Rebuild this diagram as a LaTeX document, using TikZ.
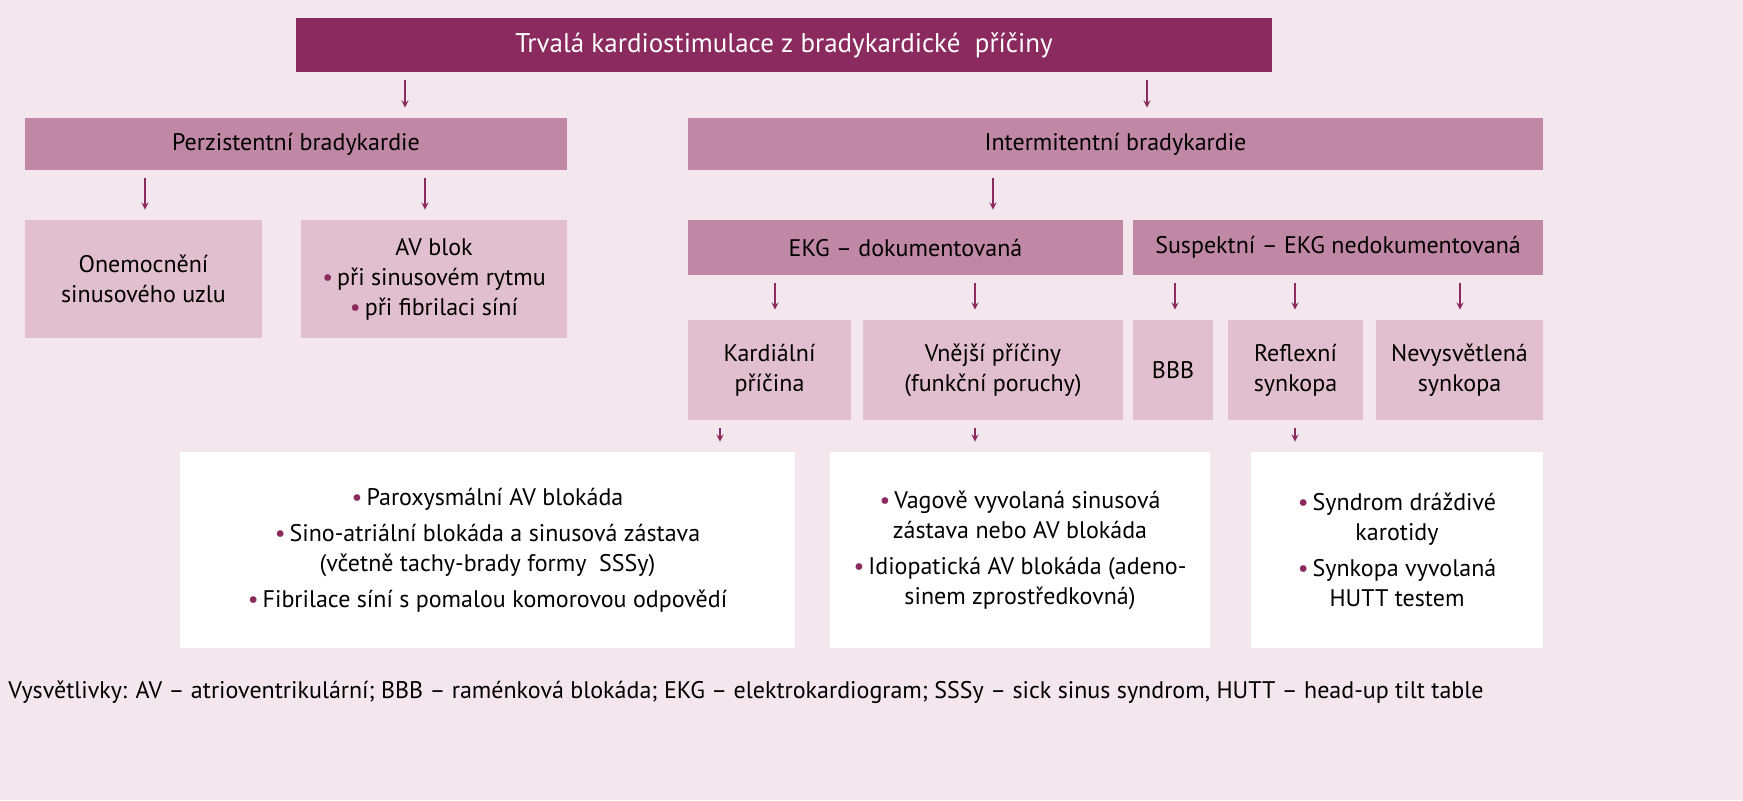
\documentclass[tikz,border=0pt]{standalone}
\usepackage{fontspec}
\setmainfont{PT Sans}
\definecolor{dark}{HTML}{8B2A5E}
\definecolor{mid}{HTML}{C088A4}
\definecolor{light}{HTML}{E2BFCE}
\definecolor{back}{HTML}{F4E6ED}
\tikzset{
% box styles, sizes in pixels of the reference
box/.style={rectangle,inner sep=0,align=center,font=\fontsize{12}{15}\selectfont},
top box/.style={box,fill=dark,text=white,font=\fontsize{13.5}{16}\selectfont},
mid box/.style={box,fill=mid},
light box/.style={box,fill=light},
white box/.style={box,fill=white},
arr/.style={->,>=stealth,draw=dark,semithick,shorten <=4pt,shorten >=5pt}
}
\newcommand\bul{{\color{dark}\textbullet}\,}
\begin{document}
\begin{tikzpicture}[x=0.5pt,y=-0.5pt]
\useasboundingbox (0,0) rectangle (1743,800);
\fill[back] (0,0) rectangle (1743,800);
\node[top box, minimum width=488pt, minimum height=27pt] (top) at (784,45) {Trvalá kardiostimulace z bradykardické\ \ příčiny};
\node[mid box, minimum width=271pt, minimum height=26pt] (perz) at (296,144) {Perzistentní bradykardie};
\node[mid box, minimum width=427.5pt, minimum height=26pt] (inter) at (1115.5,144) {Intermitentní bradykardie};
\node[light box, minimum width=118.5pt, minimum height=59pt] (onem) at (143.5,279) {Onemocnění\\sinusového uzlu};
\node[light box, minimum width=133pt, minimum height=59pt] (avb) at (434,279) {AV blok\\\bul při sinusovém rytmu\\\bul při fibrilaci síní};
\node[mid box, minimum width=217.5pt, minimum height=27.5pt] (ekg) at (905.5,247.5) {EKG – dokumentovaná};
\node[mid box, minimum width=205pt, minimum height=27.5pt] (susp) at (1338,247.5) {Suspektní – EKG nedokumentovaná};
\node[light box, minimum width=81.5pt, minimum height=50pt] (kard) at (769.5,370) {Kardiální\\příčina};
\node[light box, minimum width=130pt, minimum height=50pt] (vnej) at (993,370) {Vnější příčiny\\(funkční poruchy)};
\node[light box, minimum width=40pt, minimum height=50pt] (bbb) at (1173,370) {BBB};
\node[light box, minimum width=67.5pt, minimum height=50pt] (refl) at (1295.5,370) {Reflexní\\synkopa};
\node[light box, minimum width=83.5pt, minimum height=50pt] (nevy) at (1459.5,370) {Nevysvětlená\\synkopa};
\node[white box, minimum width=307.5pt, minimum height=98pt] (w1) at (487.5,550) {\bul Paroxysmální AV blokáda\\[3pt]\bul Sino-atriální blokáda a sinusová zástava\\(včetně tachy-brady formy\ \ SSSy)\\[3pt]\bul Fibrilace síní s pomalou komorovou odpovědí};
\node[white box, minimum width=190pt, minimum height=98pt] (w2) at (1020,550) {\bul Vagově vyvolaná sinusová\\zástava nebo AV blokáda\\[3pt]\bul Idiopatická AV blokáda (adeno-\\sinem zprostředkovná)};
\node[white box, minimum width=146pt, minimum height=98pt] (w3) at (1397,550) {\bul Syndrom dráždivé\\karotidy\\[3pt]\bul Synkopa vyvolaná\\HUTT testem};
\node[box, anchor=west] (note) at (8,692) {Vysvětlivky: AV – atrioventrikulární; BBB – raménková blokáda; EKG – elektrokardiogram; SSSy – sick sinus syndrom, HUTT – head-up tilt table};
\draw[arr] (top.south -| 405,0) -- (perz.north -| 405,0);
\draw[arr] (top.south -| 1147,0) -- (inter.north -| 1147,0);
\draw[arr] (perz.south -| 145,0) -- (onem.north -| 145,0);
\draw[arr] (perz.south -| 425,0) -- (avb.north -| 425,0);
\draw[arr] (inter.south -| 993,0) -- (ekg.north -| 993,0);
\draw[arr] (ekg.south -| 775,0) -- (kard.north -| 775,0);
\draw[arr] (ekg.south -| 975,0) -- (vnej.north -| 975,0);
\draw[arr] (susp.south -| 1175,0) -- (bbb.north -| 1175,0);
\draw[arr] (susp.south -| 1295,0) -- (refl.north -| 1295,0);
\draw[arr] (susp.south -| 1460,0) -- (nevy.north -| 1460,0);
\draw[arr] (kard.south -| 720,0) -- (w1.north -| 720,0);
\draw[arr] (vnej.south -| 975,0) -- (w2.north -| 975,0);
\draw[arr] (refl.south -| 1295,0) -- (w3.north -| 1295,0);
\end{tikzpicture}
\end{document}
